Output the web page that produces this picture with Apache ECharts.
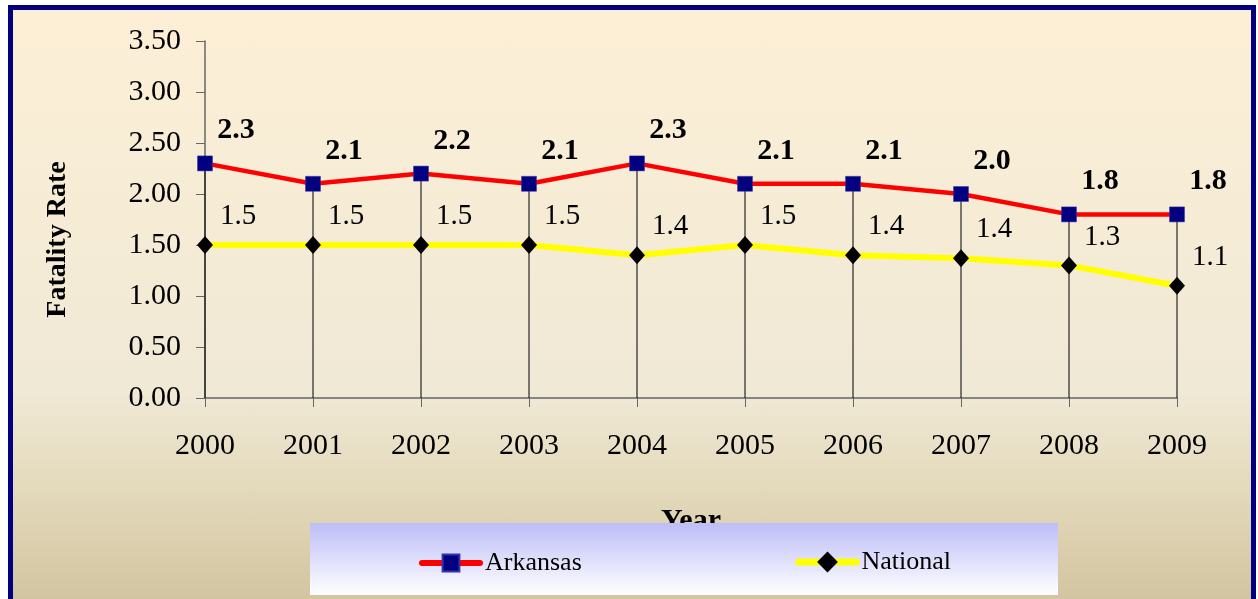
<!DOCTYPE html>
<html>
<head>
<meta charset="utf-8">
<script src="https://cdn.jsdelivr.net/npm/echarts@6/dist/echarts.min.js"></script>
<style>
html,body{margin:0;padding:0;background:#fff;width:1258px;height:599px;overflow:hidden;}
#frame{position:absolute;left:8px;top:5px;width:1248px;height:700px;box-sizing:border-box;border:5px solid #000080;border-bottom:none;
background:linear-gradient(to bottom,#fdefd6 0px,#f6ecd6 200px,#f0e9d6 380px,#e3d9bb 480px,#d2c49f 594px);}
#chart{position:absolute;left:0;top:0;width:1258px;height:599px;}
</style>
</head>
<body>
<div id="frame"></div>
<div id="chart"></div>
<script>
const years = ['2000','2001','2002','2003','2004','2005','2006','2007','2008','2009'];
const arkansas = [2.3, 2.1, 2.2, 2.1, 2.3, 2.1, 2.1, 2.0, 1.8, 1.8];
const national = [1.5, 1.5, 1.5, 1.5, 1.4, 1.5, 1.4, 1.37, 1.3, 1.1];
const yTicks = {min: 0, max: 3.5, interval: 0.5};

const FONT = 'Liberation Serif';
const chart = echarts.init(document.getElementById('chart'), null, {renderer: 'canvas'});
const axisColor = '#666';

chart.setOption({
  backgroundColor: 'transparent',
  animation: false,
  grid: {left: 205, right: 81, top: 41, bottom: 201, containLabel: false},
  xAxis: {
    type: 'category', data: years, boundaryGap: false,
    name: 'Year', nameLocation: 'middle', nameGap: 108,
    nameTextStyle: {fontFamily: FONT, fontSize: 30, fontWeight: 'bold', color: '#000'},
    axisLine: {lineStyle: {color: axisColor, width: 1.5}},
    axisTick: {show: true, length: 9, lineStyle: {color: axisColor}},
    axisLabel: {fontFamily: FONT, fontSize: 30, color: '#000', margin: 33},
    splitLine: {show: false}
  },
  yAxis: {
    type: 'value', min: yTicks.min, max: yTicks.max, interval: yTicks.interval,
    name: 'Fatality Rate', nameLocation: 'middle', nameGap: 133, nameRotate: 90,
    nameTextStyle: {fontFamily: FONT, fontSize: 28, fontWeight: 'bold', color: '#000', padding: [0, 0, 0, -40]},
    axisLine: {show: true, lineStyle: {color: axisColor, width: 1.5}},
    axisTick: {show: true, length: 9, lineStyle: {color: axisColor}},
    axisLabel: {fontFamily: FONT, fontSize: 30, color: '#000', margin: 24, formatter: v => v.toFixed(2)},
    splitLine: {show: false}
  },
  legend: [
    {data: [{name: 'Arkansas', lineStyle: {width: 6, cap: 'round'}}], left: 414, top: 545, itemWidth: 58, itemHeight: 21, z: 200,
     textStyle: {fontFamily: FONT, fontSize: 26, color: '#000'}, itemGap: 4},
    {data: [{name: 'National', lineStyle: {width: 7, cap: 'round'}}], left: 790, top: 544, itemWidth: 58, itemHeight: 26, z: 200,
     textStyle: {fontFamily: FONT, fontSize: 26, color: '#000'}, itemGap: 4}
  ],
  graphic: [{
    type: 'rect', z: 100, silent: true,
    shape: {x: 310, y: 523, width: 748, height: 72},
    style: {fill: new echarts.graphic.LinearGradient(0, 0, 0, 1, [
      {offset: 0, color: '#bdbdf8'}, {offset: 1, color: '#ffffff'}])}
  }],
  series: [
    {
      name: 'drop', type: 'bar', data: arkansas, barWidth: 1, z: 1,
      itemStyle: {color: '#000'}, silent: true
    },
    {
      name: 'Arkansas', type: 'line', data: arkansas, z: 4,
      symbol: 'rect', symbolSize: 15,
      lineStyle: {color: '#ff0000', width: 4.5},
      itemStyle: {color: '#000080', borderColor: '#3333aa', borderWidth: 0.5},
      label: {show: true, position: 'top', offset: [31, -5], fontFamily: FONT, fontSize: 30, fontWeight: 'bold', color: '#000',
        formatter: p => p.value.toFixed(1)}
    },
    {
      name: 'National', type: 'line', data: national, z: 3,
      symbol: 'diamond', symbolSize: [16, 18],
      lineStyle: {color: '#ffff00', width: 6},
      itemStyle: {color: '#000'},
      label: {show: true, position: 'top', offset: [33, 0], fontFamily: FONT, fontSize: 29, color: '#000',
        formatter: p => p.value.toFixed(1)}
    }
  ]
});
</script>
</body>
</html>
